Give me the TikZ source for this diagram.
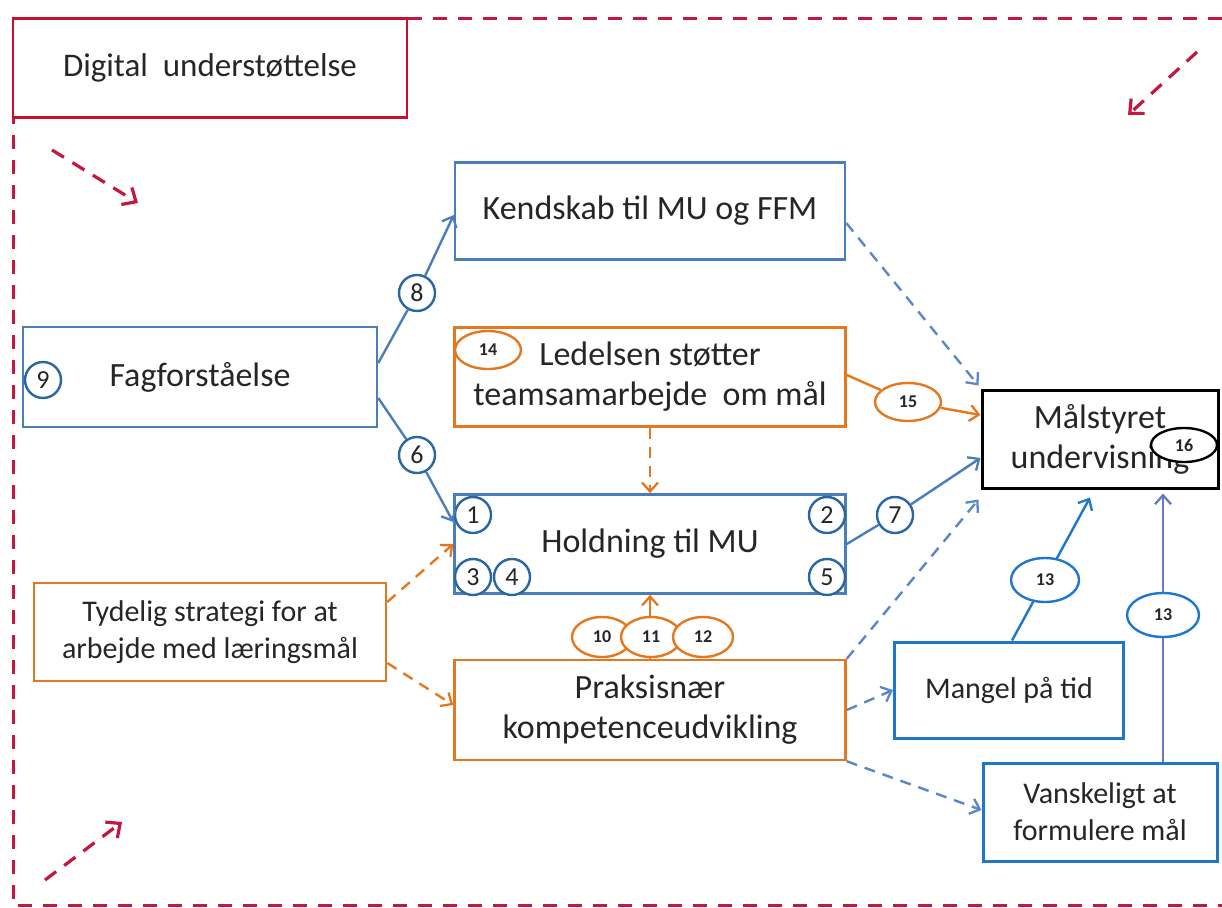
\documentclass[tikz,border=0pt]{standalone}
\usepackage{fontspec}
\setmainfont{Carlito}
\usetikzlibrary{arrows.meta,shapes.geometric}
\definecolor{txt}{HTML}{262626}
\definecolor{boxblue}{HTML}{4A7EBB}
\definecolor{cblue}{HTML}{2A66A3}
\definecolor{brblue}{HTML}{1F77C9}
\definecolor{lblue}{HTML}{5A87C6}
\definecolor{pblue}{HTML}{6678C8}
\definecolor{orng}{HTML}{E5781F}
\definecolor{frame}{HTML}{C4173F}
\definecolor{dred}{HTML}{C8102E}
\begin{document}
\begin{tikzpicture}[x=1pt,y=-1pt,
  box/.style={draw, line width=2.5pt, inner sep=0pt, align=center, text=txt, fill=white,
    font=\fontsize{34}{40}\selectfont},
  sbox/.style={box, font=\fontsize{30}{37}\selectfont},
  num/.style={circle, draw=cblue, line width=2.4pt, fill=white, minimum size=36pt, inner sep=0pt,
    text=txt, font=\fontsize{26}{26}\selectfont},
  ell/.style={ellipse, draw, line width=2.4pt, fill=white, minimum width=66pt, minimum height=38pt,
    inner sep=0pt, text=txt, font=\bfseries\fontsize{18}{18}\selectfont},
  tip/.style={-{Straight Barb[length=9pt,width=16pt,line width=2.3pt]}},
  conn/.style={line width=2.4pt},
  dconn/.style={line width=2.4pt, dash pattern=on 11pt off 8pt},
  redarr/.style={draw=frame, line width=3.2pt, dash pattern=on 14pt off 10pt,
    -{Straight Barb[length=11pt,width=20pt,line width=3.2pt]}}
]
\useasboundingbox (0,0) rectangle (1222,907);

% outer dashed frame
\draw[frame, line width=3pt, dash pattern=on 14pt off 11pt]
  (1222,19) -- (13,19) -- (13,905) -- (1222,905);

% boxes
\node[box, draw=dred, font=\fontsize{33}{40}\selectfont, minimum width=394pt, minimum height=99pt] (dig) at (210,68)
  {Digital\ \ understøttelse};
\node[box, draw=boxblue, minimum width=390pt, minimum height=97pt] (kend) at (650,211)
  {Kendskab til MU og FFM};
\node[box, draw=boxblue, minimum width=354pt, minimum height=100pt] (fag) at (200,377)
  {Fagforståelse};
\node[box, draw=orng, minimum width=391pt, minimum height=99pt] (led) at (650,377)
  {Ledelsen støtter\\teamsamarbejde\ \ om mål};
\node[box, draw=boxblue, minimum width=391pt, minimum height=99pt] (hold) at (650,544)
  {Holdning til MU};
\node[sbox, draw=orng, minimum width=352pt, minimum height=98pt] (tyd) at (210,632)
  {Tydelig strategi for at\\arbejde med læringsmål};
\node[box, draw=orng, minimum width=391pt, minimum height=100pt] (prak) at (650,710)
  {Praksisnær\\kompetenceudvikling};
\node[box, draw=black, line width=3pt, minimum width=236pt, minimum height=98pt] (mal) at (1100,439)
  {Målstyret\\undervisning};
\node[sbox, draw=brblue, line width=3pt, minimum width=229pt, minimum height=96pt] (mangel) at (1009,690)
  {Mangel på tid};
\node[sbox, draw=brblue, line width=3pt, minimum width=234pt, minimum height=98pt] (vansk) at (1100,812)
  {Vanskeligt at\\formulere mål};

% number circles
\node[num] (c9) at (43,380) {9};
\node[num] (c8) at (417,293) {8};
\node[num] (c6) at (417,455) {6};
\node[num] (c1) at (473,515) {1};
\node[num] (c2) at (827,515) {2};
\node[num] (c3) at (473,577) {3};
\node[num] (c4) at (512,577) {4};
\node[num] (c5) at (827,577) {5};
\node[num] (c7) at (895,515) {7};

% connectors
\draw[conn, boxblue] ([yshift=14pt]fag.east) -- (c8);
\draw[conn, boxblue, tip] (c8) -- ([yshift=-4pt]kend.west);
\draw[conn, boxblue] ([yshift=-21pt]fag.east) -- (c6);
\draw[conn, boxblue, tip] (c6) -- ([yshift=22pt]hold.west);
\draw[dconn, lblue, tip] ([yshift=-12pt]kend.east) -- ([xshift=-2pt,yshift=3pt]mal.north west);
\draw[dconn, orng, tip] (led.south) -- (hold.north);
\draw[conn, boxblue] (hold.east) -- (c7);
\draw[conn, boxblue, tip] (c7) -- ([yshift=-19pt]mal.west);
\draw[dconn, lblue, tip] (prak.north east) -- ([xshift=-2pt,yshift=-10pt]mal.south west);
\draw[dconn, lblue, tip] (prak.east) -- (mangel.west);
\draw[dconn, lblue, tip] (prak.south east) -- ([yshift=2pt]vansk.west);
\draw[dconn, orng, tip] ([yshift=30pt]tyd.east) -- (hold.west);
\draw[dconn, orng, tip] ([yshift=-31pt]tyd.east) -- ([yshift=5pt]prak.west);
\draw[conn, orng, tip] (prak.north) -- (hold.south);

% ellipses
\node[ell, draw=orng] (e14) at (488,350) {14};
\node[ell, draw=orng] (e15) at (908,402) {15};
\draw[conn, orng] ([yshift=2pt]led.east) -- (e15);
\draw[conn, orng, tip] (e15) -- ([yshift=24pt]mal.west);
\node[ell, draw=orng, minimum width=60pt, minimum height=40pt] (e10) at (602,637) {10};
\node[ell, draw=orng, minimum width=60pt, minimum height=40pt] (e11) at (651,637) {11};
\node[ell, draw=orng, minimum width=60pt, minimum height=40pt] (e12) at (703,637) {12};
\node[ell, draw=black, minimum height=34pt] (e16) at (1184,445) {16};
\node[ell, draw=brblue, minimum width=68pt, minimum height=44pt] (e13a) at (1045,580) {13};
\node[ell, draw=brblue, minimum width=72pt, minimum height=44pt] (e13b) at (1163,615) {13};
\draw[conn, brblue] ([xshift=3pt]mangel.north) -- (e13a);
\draw[conn, brblue, tip] (e13a) -- ([xshift=-10pt,yshift=-8pt]mal.south);
\draw[conn, pblue] ([xshift=63pt]vansk.north) -- (e13b);
\draw[conn, pblue, tip] (e13b) -- ([xshift=63pt,yshift=-4pt]mal.south);

% red dashed arrows
\coordinate (ra1) at (52,150); \coordinate (rb1) at (138,203);
\coordinate (ra2) at (1197,52); \coordinate (rb2) at (1128,115);
\coordinate (ra3) at (45,880); \coordinate (rb3) at (122,822);
\draw[redarr] (ra1) -- (rb1);
\draw[redarr] (ra2) -- (rb2);
\draw[redarr] (ra3) -- (rb3);
\end{tikzpicture}
\end{document}
